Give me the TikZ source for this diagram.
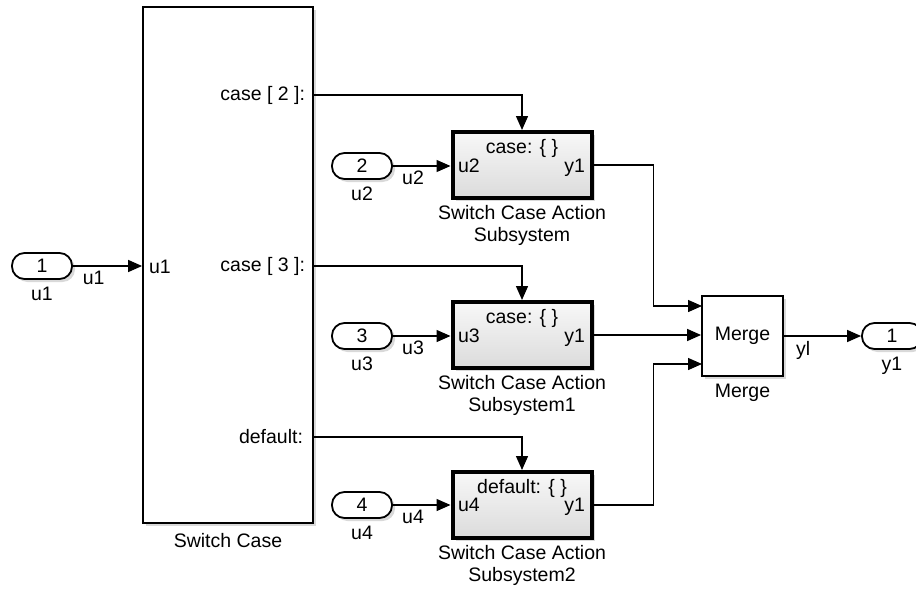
\documentclass[tikz,border=0pt]{standalone}
\usepackage{fontspec}
\setmainfont{Liberation Sans}
\usetikzlibrary{arrows.meta,positioning,shadows}

\begin{document}
\begin{tikzpicture}[x=1pt,y=-1pt,line width=1.4pt,
    font=\fontsize{19.5}{22}\selectfont,
    sig/.style={-{Triangle[length=14pt,width=12pt]}},
    shad/.style={drop shadow={shadow xshift=3pt,shadow yshift=-3pt,opacity=0.3,fill=gray}},
    port/.style={draw,line width=1.8pt,rounded corners=12.5pt,minimum width=60pt,minimum height=26pt,inner sep=0pt,fill=white,shad},
    block/.style={draw,line width=1.8pt,fill=white,inner sep=0pt,shad},
    action/.style={draw,line width=4pt,inner sep=0pt,minimum width=139pt,minimum height=66pt,top color=gray!6,bottom color=gray!28,shad}]

    \useasboundingbox (0,0) rectangle (916,594);

    % switch case block
    \node[block,minimum width=170pt,minimum height=516pt] (sw) at (228,265) {};
    \node[below=5pt of sw] (swlab) {Switch Case};
    \node[anchor=west] (swin) at (145,267) {u1};
    \node[anchor=east] (c2) at (309,95) {case [ 2 ]:};
    \node[anchor=east] (c3) at (309,266) {case [ 3 ]:};
    \node[anchor=east] (cd) at (307,437) {default:};

    % inports
    \node[port] (in1) at (42,266) {1};
    \node[below=3pt of in1] (in1lab) {u1};
    \node[port] (in2) at (362,166) {2};
    \node[below=3pt of in2] (in2lab) {u2};
    \node[port] (in3) at (362,336) {3};
    \node[below=3pt of in3] (in3lab) {u3};
    \node[port] (in4) at (362,505) {4};
    \node[below=3pt of in4] (in4lab) {u4};

    % action subsystems
    \node[action] (sub1) at (522,165) {};
    \node[action] (sub2) at (522,335) {};
    \node[action] (sub3) at (522,505) {};
    \node[below=1pt of sub1,align=center] (sub1lab) {Switch Case Action\\Subsystem};
    \node[below=1pt of sub2,align=center] (sub2lab) {Switch Case Action\\Subsystem1};
    \node[below=1pt of sub3,align=center] (sub3lab) {Switch Case Action\\Subsystem2};
    \node (s1top) at (522,148) {case: \{ \}};
    \node (s2top) at (522,318) {case: \{ \}};
    \node (s3top) at (522,488) {default: \{ \}};
    \node[anchor=west] (s1u) at (454,166) {u2};
    \node[anchor=west] (s2u) at (454,336) {u3};
    \node[anchor=west] (s3u) at (454,505) {u4};
    \node[anchor=east] (s1y) at (589,168) {y1};
    \node[anchor=east] (s2y) at (589,338) {y1};
    \node[anchor=east] (s3y) at (589,507) {y1};

    % merge and outport
    \node[block,minimum width=81pt,minimum height=80pt] (merge) at (742.5,336) {Merge};
    \node[below=3pt of merge] (mergelab) {Merge};
    \node[port] (out1) at (892,336) {1};
    \node[below=3pt of out1] (out1lab) {y1};

    \coordinate (m1) at (702,306);
    \coordinate (m3) at (702,364);

    % signals
    \draw[sig] (in1.east) -- (in1.east -| sw.west) node[pos=0.3,below=1pt] {u1};
    \draw[sig] (in2.east) -- (in2.east -| sub1.west) node[pos=0.35,below=1pt] {u2};
    \draw[sig] (in3.east) -- (in3.east -| sub2.west) node[pos=0.35,below=1pt] {u3};
    \draw[sig] (in4.east) -- (in4.east -| sub3.west) node[pos=0.35,below=1pt] {u4};

    \draw[sig] (c2.east -| sw.east) -| (sub1.north);
    \draw[sig] (c3.east -| sw.east) -| (sub2.north);
    \draw[sig] (cd.east -| sw.east) -| (sub3.north);

    \draw[sig] (sub1.east) -- ++(60,0) |- (m1);
    \draw[sig] (sub2.east) -- (sub2.east -| merge.west);
    \draw[sig] (sub3.east) -- ++(60,0) |- (m3);
    \draw[sig] (merge.east) -- (out1.west) node[pos=0.25,below=1pt] {yl};

\end{tikzpicture}
\end{document}
